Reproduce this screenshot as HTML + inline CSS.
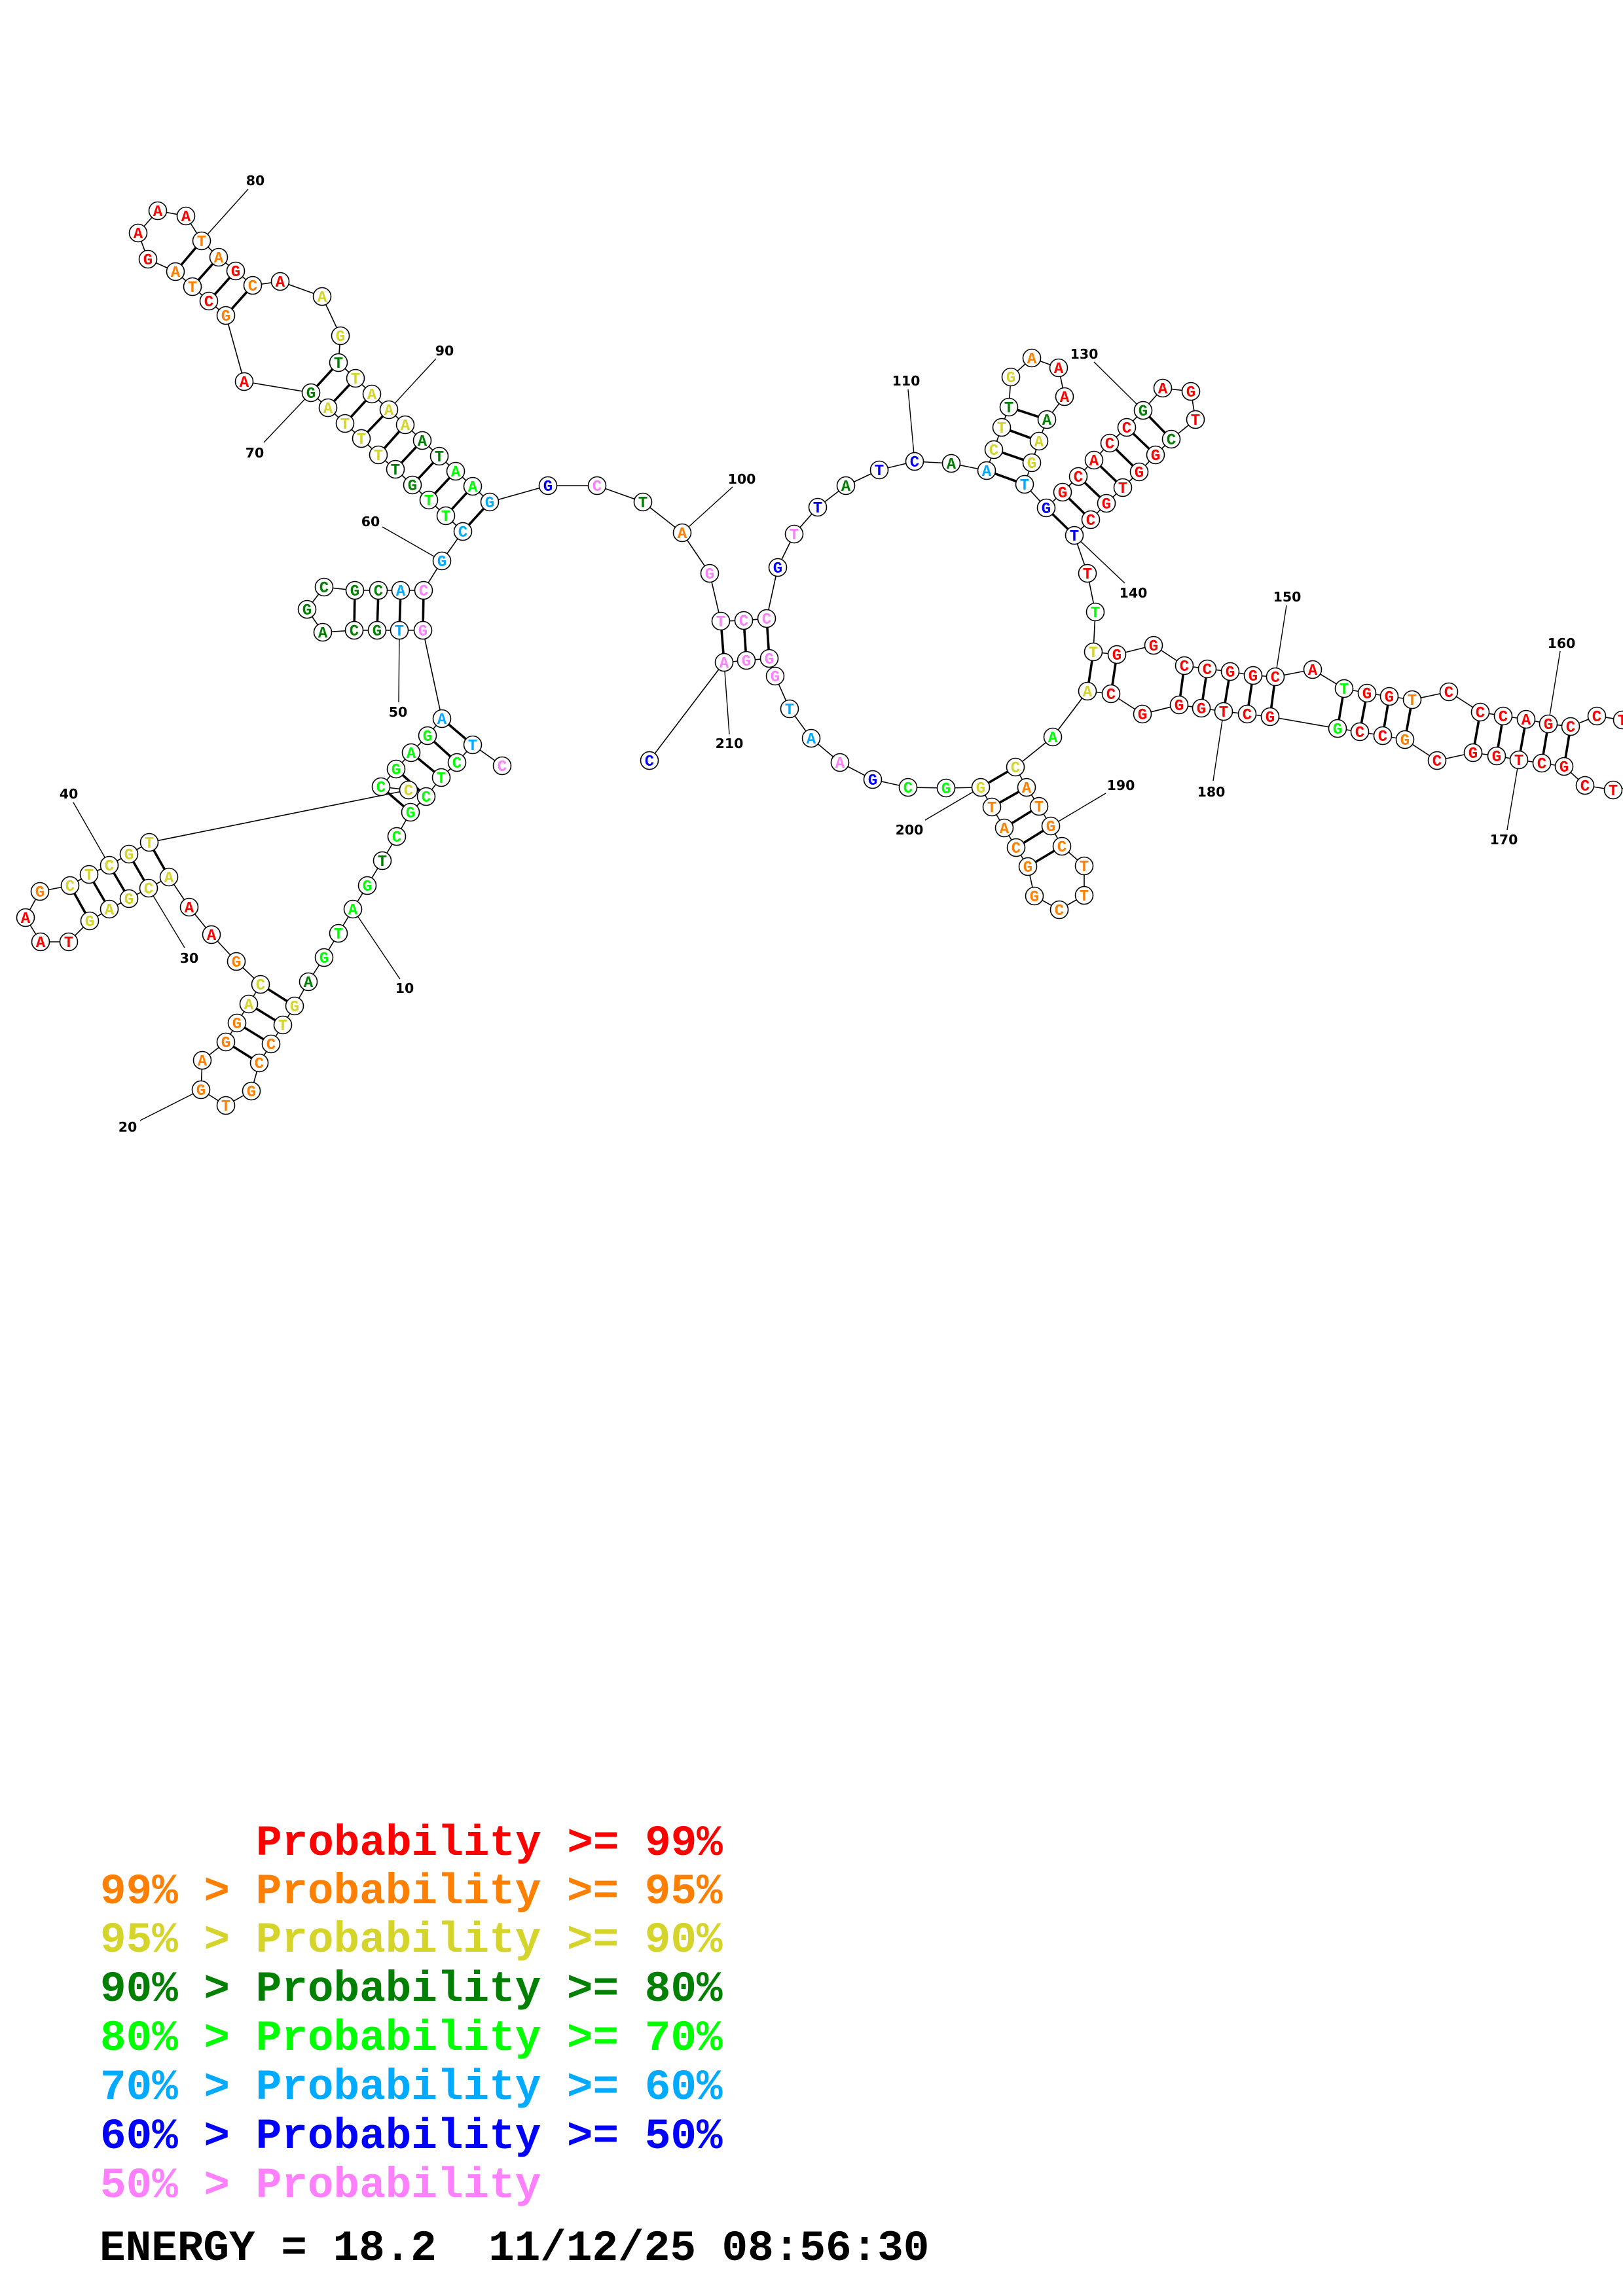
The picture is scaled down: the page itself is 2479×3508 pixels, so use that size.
<!DOCTYPE html>
<html>
<head>
<meta charset="utf-8">
<style>
html,body{margin:0;padding:0;background:#fff;}
body{width:2479px;height:3508px;overflow:hidden;position:relative;}
svg{position:absolute;left:0;top:0;}
.bb{fill:none;stroke:#000;stroke-width:1.6;}
.ll{stroke:#000;stroke-width:1.4;}
.pr{stroke:#000;stroke-width:3.6;}
.n circle{fill:#fff;stroke:#000;stroke-width:1.6;}
.n text{font-family:"Liberation Mono",monospace;font-weight:bold;font-size:24px;text-anchor:middle;}
.lb{font-family:"DejaVu Sans","Liberation Sans",sans-serif;font-weight:bold;font-size:20.5px;text-anchor:middle;fill:#000;}
.lg{font-family:"Liberation Mono",monospace;font-weight:bold;font-size:66px;}
.R{fill:#ff0000}.O{fill:#ff8000}.Y{fill:#d4d42a}.D{fill:#008000}.G{fill:#00ff00}.C{fill:#00aaff}.B{fill:#0000ff}.P{fill:#ff80ff}.K{fill:#000}
</style>
</head>
<body>
<svg width="2479" height="3508" viewBox="0 0 2479 3508" xmlns="http://www.w3.org/2000/svg">
<polyline class="bb" points="767,1170 722,1138 698,1165 674,1188 651,1217 627,1241 606,1278 584,1315 561,1353 539,1389 517,1426 495,1463 471,1500 450,1537 432,1566 414,1595 396,1624 384,1667 345,1689 307,1665 309,1620 345,1592 362,1563 380,1534 398,1504 361,1469 323,1428 289,1386 258,1340 227,1357 197,1373 167,1389 137,1407 105,1439 62,1439 39,1402 61,1362 107,1353 136,1336 167,1322 197,1305 228,1287 624,1207 582,1202 605,1175 628,1150 653,1124 675,1098 646,963 610,963 576,963 541,963 493,966 469,931 495,897 542,902 578,902 612,902 647,902 675,857 707,812 681,788 655,764 630,741 604,717 578,695 552,670 527,647 501,623 475,600 373,583 345,482 319,460 294,438 268,415 226,396 211,356 241,322 284,330 308,368 334,393 360,414 386,436 428,430 492,453 520,513 517,554 543,578 568,602 594,626 619,649 645,673 671,697 696,720 722,743 748,767 837,742 912,742 982,767 1042,814 1084,876 1101,949 1136,948 1171,945 1188,867 1213,816 1249,775 1292,742 1343,718 1397,705 1453,708 1507,719 1518,687 1530,653 1541,622 1544,576 1576,547 1617,562 1626,606 1599,641 1587,674 1576,707 1565,740 1598,776 1623,752 1647,728 1671,703 1695,677 1721,653 1746,627 1776,593 1819,598 1826,641 1789,671 1765,695 1740,721 1715,745 1690,769 1666,794 1641,818 1661,876 1673,935 1670,996 1706,1000 1762,986 1809,1017 1844,1022 1879,1026 1914,1032 1948,1034 2005,1023 2053,1052 2088,1059 2122,1064 2157,1069 2213,1057 2261,1088 2296,1094 2331,1099 2365,1106 2399,1110 2439,1094 2478,1100 2512,1130 2505,1200 2464,1207 2421,1200 2389,1171 2355,1166 2320,1161 2286,1155 2250,1150 2195,1162 2146,1130 2112,1124 2077,1118 2043,1113 1940,1095 1905,1091 1869,1087 1835,1082 1801,1077 1745,1091 1697,1060 1661,1056 1608,1126 1551,1172 1568,1203 1587,1232 1605,1262 1622,1293 1656,1323 1656,1368 1618,1390 1580,1369 1570,1324 1552,1295 1534,1265 1515,1233 1498,1203 1445,1204 1387,1203 1333,1191 1283,1165 1239,1128 1206,1083 1184,1033 1175,1006 1140,1009 1106,1012 992,1162"/>

<g class="ll">
<line x1="308" y1="368" x2="379" y2="289"/>
<line x1="594" y1="626" x2="666" y2="548"/>
<line x1="475" y1="600" x2="403" y2="676"/>
<line x1="675" y1="857" x2="584" y2="805"/>
<line x1="610" y1="963" x2="609" y2="1073"/>
<line x1="1042" y1="814" x2="1119" y2="744"/>
<line x1="1397" y1="705" x2="1387" y2="595"/>
<line x1="1746" y1="627" x2="1671" y2="553"/>
<line x1="1641" y1="818" x2="1718" y2="891"/>
<line x1="1948" y1="1034" x2="1965" y2="925"/>
<line x1="2365" y1="1106" x2="2383" y2="995"/>
<line x1="2320" y1="1161" x2="2302" y2="1268"/>
<line x1="1869" y1="1087" x2="1853" y2="1193"/>
<line x1="1605" y1="1262" x2="1689" y2="1212"/>
<line x1="1498" y1="1203" x2="1413" y2="1253"/>
<line x1="1106" y1="1012" x2="1114" y2="1122"/>
<line x1="167" y1="1322" x2="112" y2="1226"/>
<line x1="227" y1="1357" x2="282" y2="1448"/>
<line x1="307" y1="1665" x2="214" y2="1712"/>
<line x1="539" y1="1389" x2="611" y2="1496"/>
</g>

<g class="pr">
<line x1="722" y1="1138" x2="675" y2="1098"/>
<line x1="698" y1="1165" x2="653" y2="1124"/>
<line x1="674" y1="1188" x2="628" y2="1150"/>
<line x1="651" y1="1217" x2="605" y2="1175"/>
<line x1="627" y1="1241" x2="582" y2="1202"/>
<line x1="450" y1="1537" x2="398" y2="1504"/>
<line x1="432" y1="1566" x2="380" y2="1534"/>
<line x1="414" y1="1595" x2="362" y2="1563"/>
<line x1="396" y1="1624" x2="345" y2="1592"/>
<line x1="258" y1="1340" x2="228" y2="1287"/>
<line x1="227" y1="1357" x2="197" y2="1305"/>
<line x1="197" y1="1373" x2="167" y2="1322"/>
<line x1="167" y1="1389" x2="136" y2="1336"/>
<line x1="137" y1="1407" x2="107" y2="1353"/>
<line x1="646" y1="963" x2="647" y2="902"/>
<line x1="610" y1="963" x2="612" y2="902"/>
<line x1="576" y1="963" x2="578" y2="902"/>
<line x1="541" y1="963" x2="542" y2="902"/>
<line x1="707" y1="812" x2="748" y2="767"/>
<line x1="681" y1="788" x2="722" y2="743"/>
<line x1="655" y1="764" x2="696" y2="720"/>
<line x1="630" y1="741" x2="671" y2="697"/>
<line x1="604" y1="717" x2="645" y2="673"/>
<line x1="578" y1="695" x2="619" y2="649"/>
<line x1="552" y1="670" x2="594" y2="626"/>
<line x1="527" y1="647" x2="568" y2="602"/>
<line x1="501" y1="623" x2="543" y2="578"/>
<line x1="475" y1="600" x2="517" y2="554"/>
<line x1="345" y1="482" x2="386" y2="436"/>
<line x1="319" y1="460" x2="360" y2="414"/>
<line x1="294" y1="438" x2="334" y2="393"/>
<line x1="268" y1="415" x2="308" y2="368"/>
<line x1="1101" y1="949" x2="1106" y2="1012"/>
<line x1="1136" y1="948" x2="1140" y2="1009"/>
<line x1="1171" y1="945" x2="1175" y2="1006"/>
<line x1="1507" y1="719" x2="1565" y2="740"/>
<line x1="1518" y1="687" x2="1576" y2="707"/>
<line x1="1530" y1="653" x2="1587" y2="674"/>
<line x1="1541" y1="622" x2="1599" y2="641"/>
<line x1="1598" y1="776" x2="1641" y2="818"/>
<line x1="1623" y1="752" x2="1666" y2="794"/>
<line x1="1647" y1="728" x2="1690" y2="769"/>
<line x1="1671" y1="703" x2="1715" y2="745"/>
<line x1="1695" y1="677" x2="1740" y2="721"/>
<line x1="1721" y1="653" x2="1765" y2="695"/>
<line x1="1746" y1="627" x2="1789" y2="671"/>
<line x1="1670" y1="996" x2="1661" y2="1056"/>
<line x1="1706" y1="1000" x2="1697" y2="1060"/>
<line x1="1809" y1="1017" x2="1801" y2="1077"/>
<line x1="1844" y1="1022" x2="1835" y2="1082"/>
<line x1="1879" y1="1026" x2="1869" y2="1087"/>
<line x1="1914" y1="1032" x2="1905" y2="1091"/>
<line x1="1948" y1="1034" x2="1940" y2="1095"/>
<line x1="2053" y1="1052" x2="2043" y2="1113"/>
<line x1="2088" y1="1059" x2="2077" y2="1118"/>
<line x1="2122" y1="1064" x2="2112" y2="1124"/>
<line x1="2157" y1="1069" x2="2146" y2="1130"/>
<line x1="2261" y1="1088" x2="2250" y2="1150"/>
<line x1="2296" y1="1094" x2="2286" y2="1155"/>
<line x1="2331" y1="1099" x2="2320" y2="1161"/>
<line x1="2365" y1="1106" x2="2355" y2="1166"/>
<line x1="2399" y1="1110" x2="2389" y2="1171"/>
<line x1="1551" y1="1172" x2="1498" y2="1203"/>
<line x1="1568" y1="1203" x2="1515" y2="1233"/>
<line x1="1587" y1="1232" x2="1534" y2="1265"/>
<line x1="1605" y1="1262" x2="1552" y2="1295"/>
<line x1="1622" y1="1293" x2="1570" y2="1324"/>
</g>

<g class="n">
<g transform="translate(767,1170)"><circle r="13.5"/><text y="8" class="P">C</text></g>
<g transform="translate(722,1138)"><circle r="13.5"/><text y="8" class="C">T</text></g>
<g transform="translate(698,1165)"><circle r="13.5"/><text y="8" class="G">C</text></g>
<g transform="translate(674,1188)"><circle r="13.5"/><text y="8" class="G">T</text></g>
<g transform="translate(651,1217)"><circle r="13.5"/><text y="8" class="G">C</text></g>
<g transform="translate(627,1241)"><circle r="13.5"/><text y="8" class="G">G</text></g>
<g transform="translate(606,1278)"><circle r="13.5"/><text y="8" class="G">C</text></g>
<g transform="translate(584,1315)"><circle r="13.5"/><text y="8" class="D">T</text></g>
<g transform="translate(561,1353)"><circle r="13.5"/><text y="8" class="G">G</text></g>
<g transform="translate(539,1389)"><circle r="13.5"/><text y="8" class="G">A</text></g>
<g transform="translate(517,1426)"><circle r="13.5"/><text y="8" class="G">T</text></g>
<g transform="translate(495,1463)"><circle r="13.5"/><text y="8" class="G">G</text></g>
<g transform="translate(471,1500)"><circle r="13.5"/><text y="8" class="D">A</text></g>
<g transform="translate(450,1537)"><circle r="13.5"/><text y="8" class="Y">G</text></g>
<g transform="translate(432,1566)"><circle r="13.5"/><text y="8" class="Y">T</text></g>
<g transform="translate(414,1595)"><circle r="13.5"/><text y="8" class="O">C</text></g>
<g transform="translate(396,1624)"><circle r="13.5"/><text y="8" class="O">C</text></g>
<g transform="translate(384,1667)"><circle r="13.5"/><text y="8" class="O">G</text></g>
<g transform="translate(345,1689)"><circle r="13.5"/><text y="8" class="O">T</text></g>
<g transform="translate(307,1665)"><circle r="13.5"/><text y="8" class="O">G</text></g>
<g transform="translate(309,1620)"><circle r="13.5"/><text y="8" class="O">A</text></g>
<g transform="translate(345,1592)"><circle r="13.5"/><text y="8" class="O">G</text></g>
<g transform="translate(362,1563)"><circle r="13.5"/><text y="8" class="O">G</text></g>
<g transform="translate(380,1534)"><circle r="13.5"/><text y="8" class="Y">A</text></g>
<g transform="translate(398,1504)"><circle r="13.5"/><text y="8" class="Y">C</text></g>
<g transform="translate(361,1469)"><circle r="13.5"/><text y="8" class="O">G</text></g>
<g transform="translate(323,1428)"><circle r="13.5"/><text y="8" class="R">A</text></g>
<g transform="translate(289,1386)"><circle r="13.5"/><text y="8" class="R">A</text></g>
<g transform="translate(258,1340)"><circle r="13.5"/><text y="8" class="Y">A</text></g>
<g transform="translate(227,1357)"><circle r="13.5"/><text y="8" class="Y">C</text></g>
<g transform="translate(197,1373)"><circle r="13.5"/><text y="8" class="Y">G</text></g>
<g transform="translate(167,1389)"><circle r="13.5"/><text y="8" class="Y">A</text></g>
<g transform="translate(137,1407)"><circle r="13.5"/><text y="8" class="Y">G</text></g>
<g transform="translate(105,1439)"><circle r="13.5"/><text y="8" class="R">T</text></g>
<g transform="translate(62,1439)"><circle r="13.5"/><text y="8" class="R">A</text></g>
<g transform="translate(39,1402)"><circle r="13.5"/><text y="8" class="R">A</text></g>
<g transform="translate(61,1362)"><circle r="13.5"/><text y="8" class="O">G</text></g>
<g transform="translate(107,1353)"><circle r="13.5"/><text y="8" class="Y">C</text></g>
<g transform="translate(136,1336)"><circle r="13.5"/><text y="8" class="Y">T</text></g>
<g transform="translate(167,1322)"><circle r="13.5"/><text y="8" class="Y">C</text></g>
<g transform="translate(197,1305)"><circle r="13.5"/><text y="8" class="Y">G</text></g>
<g transform="translate(228,1287)"><circle r="13.5"/><text y="8" class="Y">T</text></g>
<g transform="translate(582,1202)"><circle r="13.5"/><text y="8" class="G">C</text></g>
<g transform="translate(624,1207)"><circle r="13.5"/><text y="8" class="Y">C</text></g>
<g transform="translate(605,1175)"><circle r="13.5"/><text y="8" class="G">G</text></g>
<g transform="translate(628,1150)"><circle r="13.5"/><text y="8" class="G">A</text></g>
<g transform="translate(653,1124)"><circle r="13.5"/><text y="8" class="G">G</text></g>
<g transform="translate(675,1098)"><circle r="13.5"/><text y="8" class="C">A</text></g>
<g transform="translate(646,963)"><circle r="13.5"/><text y="8" class="P">G</text></g>
<g transform="translate(610,963)"><circle r="13.5"/><text y="8" class="C">T</text></g>
<g transform="translate(576,963)"><circle r="13.5"/><text y="8" class="D">G</text></g>
<g transform="translate(541,963)"><circle r="13.5"/><text y="8" class="D">C</text></g>
<g transform="translate(493,966)"><circle r="13.5"/><text y="8" class="D">A</text></g>
<g transform="translate(469,931)"><circle r="13.5"/><text y="8" class="D">G</text></g>
<g transform="translate(495,897)"><circle r="13.5"/><text y="8" class="D">C</text></g>
<g transform="translate(542,902)"><circle r="13.5"/><text y="8" class="D">G</text></g>
<g transform="translate(578,902)"><circle r="13.5"/><text y="8" class="D">C</text></g>
<g transform="translate(612,902)"><circle r="13.5"/><text y="8" class="C">A</text></g>
<g transform="translate(647,902)"><circle r="13.5"/><text y="8" class="P">C</text></g>
<g transform="translate(675,857)"><circle r="13.5"/><text y="8" class="C">G</text></g>
<g transform="translate(707,812)"><circle r="13.5"/><text y="8" class="C">C</text></g>
<g transform="translate(681,788)"><circle r="13.5"/><text y="8" class="G">T</text></g>
<g transform="translate(655,764)"><circle r="13.5"/><text y="8" class="G">T</text></g>
<g transform="translate(630,741)"><circle r="13.5"/><text y="8" class="D">G</text></g>
<g transform="translate(604,717)"><circle r="13.5"/><text y="8" class="D">T</text></g>
<g transform="translate(578,695)"><circle r="13.5"/><text y="8" class="Y">T</text></g>
<g transform="translate(552,670)"><circle r="13.5"/><text y="8" class="Y">T</text></g>
<g transform="translate(527,647)"><circle r="13.5"/><text y="8" class="Y">T</text></g>
<g transform="translate(501,623)"><circle r="13.5"/><text y="8" class="Y">A</text></g>
<g transform="translate(475,600)"><circle r="13.5"/><text y="8" class="D">G</text></g>
<g transform="translate(373,583)"><circle r="13.5"/><text y="8" class="R">A</text></g>
<g transform="translate(345,482)"><circle r="13.5"/><text y="8" class="O">G</text></g>
<g transform="translate(319,460)"><circle r="13.5"/><text y="8" class="R">C</text></g>
<g transform="translate(294,438)"><circle r="13.5"/><text y="8" class="O">T</text></g>
<g transform="translate(268,415)"><circle r="13.5"/><text y="8" class="O">A</text></g>
<g transform="translate(226,396)"><circle r="13.5"/><text y="8" class="R">G</text></g>
<g transform="translate(211,356)"><circle r="13.5"/><text y="8" class="R">A</text></g>
<g transform="translate(241,322)"><circle r="13.5"/><text y="8" class="R">A</text></g>
<g transform="translate(284,330)"><circle r="13.5"/><text y="8" class="R">A</text></g>
<g transform="translate(308,368)"><circle r="13.5"/><text y="8" class="O">T</text></g>
<g transform="translate(334,393)"><circle r="13.5"/><text y="8" class="O">A</text></g>
<g transform="translate(360,414)"><circle r="13.5"/><text y="8" class="R">G</text></g>
<g transform="translate(386,436)"><circle r="13.5"/><text y="8" class="O">C</text></g>
<g transform="translate(428,430)"><circle r="13.5"/><text y="8" class="R">A</text></g>
<g transform="translate(492,453)"><circle r="13.5"/><text y="8" class="Y">A</text></g>
<g transform="translate(520,513)"><circle r="13.5"/><text y="8" class="Y">G</text></g>
<g transform="translate(517,554)"><circle r="13.5"/><text y="8" class="D">T</text></g>
<g transform="translate(543,578)"><circle r="13.5"/><text y="8" class="Y">T</text></g>
<g transform="translate(568,602)"><circle r="13.5"/><text y="8" class="Y">A</text></g>
<g transform="translate(594,626)"><circle r="13.5"/><text y="8" class="Y">A</text></g>
<g transform="translate(619,649)"><circle r="13.5"/><text y="8" class="Y">A</text></g>
<g transform="translate(645,673)"><circle r="13.5"/><text y="8" class="D">A</text></g>
<g transform="translate(671,697)"><circle r="13.5"/><text y="8" class="D">T</text></g>
<g transform="translate(696,720)"><circle r="13.5"/><text y="8" class="G">A</text></g>
<g transform="translate(722,743)"><circle r="13.5"/><text y="8" class="G">A</text></g>
<g transform="translate(748,767)"><circle r="13.5"/><text y="8" class="C">G</text></g>
<g transform="translate(837,742)"><circle r="13.5"/><text y="8" class="B">G</text></g>
<g transform="translate(912,742)"><circle r="13.5"/><text y="8" class="P">C</text></g>
<g transform="translate(982,767)"><circle r="13.5"/><text y="8" class="D">T</text></g>
<g transform="translate(1042,814)"><circle r="13.5"/><text y="8" class="O">A</text></g>
<g transform="translate(1084,876)"><circle r="13.5"/><text y="8" class="P">G</text></g>
<g transform="translate(1101,949)"><circle r="13.5"/><text y="8" class="P">T</text></g>
<g transform="translate(1136,948)"><circle r="13.5"/><text y="8" class="P">C</text></g>
<g transform="translate(1171,945)"><circle r="13.5"/><text y="8" class="P">C</text></g>
<g transform="translate(1188,867)"><circle r="13.5"/><text y="8" class="B">G</text></g>
<g transform="translate(1213,816)"><circle r="13.5"/><text y="8" class="P">T</text></g>
<g transform="translate(1249,775)"><circle r="13.5"/><text y="8" class="B">T</text></g>
<g transform="translate(1292,742)"><circle r="13.5"/><text y="8" class="D">A</text></g>
<g transform="translate(1343,718)"><circle r="13.5"/><text y="8" class="B">T</text></g>
<g transform="translate(1397,705)"><circle r="13.5"/><text y="8" class="B">C</text></g>
<g transform="translate(1453,708)"><circle r="13.5"/><text y="8" class="D">A</text></g>
<g transform="translate(1507,719)"><circle r="13.5"/><text y="8" class="C">A</text></g>
<g transform="translate(1518,687)"><circle r="13.5"/><text y="8" class="Y">C</text></g>
<g transform="translate(1530,653)"><circle r="13.5"/><text y="8" class="Y">T</text></g>
<g transform="translate(1541,622)"><circle r="13.5"/><text y="8" class="D">T</text></g>
<g transform="translate(1544,576)"><circle r="13.5"/><text y="8" class="Y">G</text></g>
<g transform="translate(1576,547)"><circle r="13.5"/><text y="8" class="O">A</text></g>
<g transform="translate(1617,562)"><circle r="13.5"/><text y="8" class="R">A</text></g>
<g transform="translate(1626,606)"><circle r="13.5"/><text y="8" class="R">A</text></g>
<g transform="translate(1599,641)"><circle r="13.5"/><text y="8" class="D">A</text></g>
<g transform="translate(1587,674)"><circle r="13.5"/><text y="8" class="Y">A</text></g>
<g transform="translate(1576,707)"><circle r="13.5"/><text y="8" class="Y">G</text></g>
<g transform="translate(1565,740)"><circle r="13.5"/><text y="8" class="C">T</text></g>
<g transform="translate(1598,776)"><circle r="13.5"/><text y="8" class="B">G</text></g>
<g transform="translate(1623,752)"><circle r="13.5"/><text y="8" class="R">G</text></g>
<g transform="translate(1647,728)"><circle r="13.5"/><text y="8" class="R">C</text></g>
<g transform="translate(1671,703)"><circle r="13.5"/><text y="8" class="R">A</text></g>
<g transform="translate(1695,677)"><circle r="13.5"/><text y="8" class="R">C</text></g>
<g transform="translate(1721,653)"><circle r="13.5"/><text y="8" class="R">C</text></g>
<g transform="translate(1746,627)"><circle r="13.5"/><text y="8" class="D">G</text></g>
<g transform="translate(1776,593)"><circle r="13.5"/><text y="8" class="R">A</text></g>
<g transform="translate(1819,598)"><circle r="13.5"/><text y="8" class="R">G</text></g>
<g transform="translate(1826,641)"><circle r="13.5"/><text y="8" class="R">T</text></g>
<g transform="translate(1789,671)"><circle r="13.5"/><text y="8" class="D">C</text></g>
<g transform="translate(1765,695)"><circle r="13.5"/><text y="8" class="R">G</text></g>
<g transform="translate(1740,721)"><circle r="13.5"/><text y="8" class="R">G</text></g>
<g transform="translate(1715,745)"><circle r="13.5"/><text y="8" class="R">T</text></g>
<g transform="translate(1690,769)"><circle r="13.5"/><text y="8" class="R">G</text></g>
<g transform="translate(1666,794)"><circle r="13.5"/><text y="8" class="R">C</text></g>
<g transform="translate(1641,818)"><circle r="13.5"/><text y="8" class="B">T</text></g>
<g transform="translate(1661,876)"><circle r="13.5"/><text y="8" class="R">T</text></g>
<g transform="translate(1673,935)"><circle r="13.5"/><text y="8" class="G">T</text></g>
<g transform="translate(1670,996)"><circle r="13.5"/><text y="8" class="Y">T</text></g>
<g transform="translate(1706,1000)"><circle r="13.5"/><text y="8" class="R">G</text></g>
<g transform="translate(1762,986)"><circle r="13.5"/><text y="8" class="R">G</text></g>
<g transform="translate(1809,1017)"><circle r="13.5"/><text y="8" class="R">C</text></g>
<g transform="translate(1844,1022)"><circle r="13.5"/><text y="8" class="R">C</text></g>
<g transform="translate(1879,1026)"><circle r="13.5"/><text y="8" class="R">G</text></g>
<g transform="translate(1914,1032)"><circle r="13.5"/><text y="8" class="R">G</text></g>
<g transform="translate(1948,1034)"><circle r="13.5"/><text y="8" class="R">C</text></g>
<g transform="translate(2005,1023)"><circle r="13.5"/><text y="8" class="R">A</text></g>
<g transform="translate(2053,1052)"><circle r="13.5"/><text y="8" class="G">T</text></g>
<g transform="translate(2088,1059)"><circle r="13.5"/><text y="8" class="R">G</text></g>
<g transform="translate(2122,1064)"><circle r="13.5"/><text y="8" class="R">G</text></g>
<g transform="translate(2157,1069)"><circle r="13.5"/><text y="8" class="O">T</text></g>
<g transform="translate(2213,1057)"><circle r="13.5"/><text y="8" class="R">C</text></g>
<g transform="translate(2261,1088)"><circle r="13.5"/><text y="8" class="R">C</text></g>
<g transform="translate(2296,1094)"><circle r="13.5"/><text y="8" class="R">C</text></g>
<g transform="translate(2331,1099)"><circle r="13.5"/><text y="8" class="R">A</text></g>
<g transform="translate(2365,1106)"><circle r="13.5"/><text y="8" class="R">G</text></g>
<g transform="translate(2399,1110)"><circle r="13.5"/><text y="8" class="R">C</text></g>
<g transform="translate(2439,1094)"><circle r="13.5"/><text y="8" class="R">C</text></g>
<g transform="translate(2478,1100)"><circle r="13.5"/><text y="8" class="R">T</text></g>
<g transform="translate(2512,1130)"><circle r="13.5"/><text y="8" class="R">C</text></g>
<g transform="translate(2505,1200)"><circle r="13.5"/><text y="8" class="R">G</text></g>
<g transform="translate(2464,1207)"><circle r="13.5"/><text y="8" class="R">T</text></g>
<g transform="translate(2421,1200)"><circle r="13.5"/><text y="8" class="R">C</text></g>
<g transform="translate(2389,1171)"><circle r="13.5"/><text y="8" class="R">G</text></g>
<g transform="translate(2355,1166)"><circle r="13.5"/><text y="8" class="R">C</text></g>
<g transform="translate(2320,1161)"><circle r="13.5"/><text y="8" class="R">T</text></g>
<g transform="translate(2286,1155)"><circle r="13.5"/><text y="8" class="R">G</text></g>
<g transform="translate(2250,1150)"><circle r="13.5"/><text y="8" class="R">G</text></g>
<g transform="translate(2195,1162)"><circle r="13.5"/><text y="8" class="R">C</text></g>
<g transform="translate(2146,1130)"><circle r="13.5"/><text y="8" class="O">G</text></g>
<g transform="translate(2112,1124)"><circle r="13.5"/><text y="8" class="R">C</text></g>
<g transform="translate(2077,1118)"><circle r="13.5"/><text y="8" class="R">C</text></g>
<g transform="translate(2043,1113)"><circle r="13.5"/><text y="8" class="G">G</text></g>
<g transform="translate(1940,1095)"><circle r="13.5"/><text y="8" class="R">G</text></g>
<g transform="translate(1905,1091)"><circle r="13.5"/><text y="8" class="R">C</text></g>
<g transform="translate(1869,1087)"><circle r="13.5"/><text y="8" class="R">T</text></g>
<g transform="translate(1835,1082)"><circle r="13.5"/><text y="8" class="R">G</text></g>
<g transform="translate(1801,1077)"><circle r="13.5"/><text y="8" class="R">G</text></g>
<g transform="translate(1745,1091)"><circle r="13.5"/><text y="8" class="R">G</text></g>
<g transform="translate(1697,1060)"><circle r="13.5"/><text y="8" class="R">C</text></g>
<g transform="translate(1661,1056)"><circle r="13.5"/><text y="8" class="Y">A</text></g>
<g transform="translate(1608,1126)"><circle r="13.5"/><text y="8" class="G">A</text></g>
<g transform="translate(1551,1172)"><circle r="13.5"/><text y="8" class="Y">C</text></g>
<g transform="translate(1568,1203)"><circle r="13.5"/><text y="8" class="O">A</text></g>
<g transform="translate(1587,1232)"><circle r="13.5"/><text y="8" class="O">T</text></g>
<g transform="translate(1605,1262)"><circle r="13.5"/><text y="8" class="O">G</text></g>
<g transform="translate(1622,1293)"><circle r="13.5"/><text y="8" class="O">C</text></g>
<g transform="translate(1656,1323)"><circle r="13.5"/><text y="8" class="O">T</text></g>
<g transform="translate(1656,1368)"><circle r="13.5"/><text y="8" class="O">T</text></g>
<g transform="translate(1618,1390)"><circle r="13.5"/><text y="8" class="O">C</text></g>
<g transform="translate(1580,1369)"><circle r="13.5"/><text y="8" class="O">G</text></g>
<g transform="translate(1570,1324)"><circle r="13.5"/><text y="8" class="O">G</text></g>
<g transform="translate(1552,1295)"><circle r="13.5"/><text y="8" class="O">C</text></g>
<g transform="translate(1534,1265)"><circle r="13.5"/><text y="8" class="O">A</text></g>
<g transform="translate(1515,1233)"><circle r="13.5"/><text y="8" class="O">T</text></g>
<g transform="translate(1498,1203)"><circle r="13.5"/><text y="8" class="Y">G</text></g>
<g transform="translate(1445,1204)"><circle r="13.5"/><text y="8" class="G">G</text></g>
<g transform="translate(1387,1203)"><circle r="13.5"/><text y="8" class="G">C</text></g>
<g transform="translate(1333,1191)"><circle r="13.5"/><text y="8" class="B">G</text></g>
<g transform="translate(1283,1165)"><circle r="13.5"/><text y="8" class="P">A</text></g>
<g transform="translate(1239,1128)"><circle r="13.5"/><text y="8" class="C">A</text></g>
<g transform="translate(1206,1083)"><circle r="13.5"/><text y="8" class="C">T</text></g>
<g transform="translate(1184,1033)"><circle r="13.5"/><text y="8" class="P">G</text></g>
<g transform="translate(1175,1006)"><circle r="13.5"/><text y="8" class="P">G</text></g>
<g transform="translate(1140,1009)"><circle r="13.5"/><text y="8" class="P">G</text></g>
<g transform="translate(1106,1012)"><circle r="13.5"/><text y="8" class="P">A</text></g>
<g transform="translate(992,1162)"><circle r="13.5"/><text y="8" class="B">C</text></g>
</g>

<g>
<text class="lb" x="390" y="283">80</text>
<text class="lb" x="679" y="543">90</text>
<text class="lb" x="389" y="699">70</text>
<text class="lb" x="566" y="804">60</text>
<text class="lb" x="608" y="1095">50</text>
<text class="lb" x="1133" y="739">100</text>
<text class="lb" x="1384" y="589">110</text>
<text class="lb" x="1656" y="548">130</text>
<text class="lb" x="1731" y="913">140</text>
<text class="lb" x="1966" y="919">150</text>
<text class="lb" x="2385" y="990">160</text>
<text class="lb" x="2297" y="1290">170</text>
<text class="lb" x="1850" y="1217">180</text>
<text class="lb" x="1712" y="1207">190</text>
<text class="lb" x="1389" y="1275">200</text>
<text class="lb" x="1114" y="1143">210</text>
<text class="lb" x="105" y="1220">40</text>
<text class="lb" x="289" y="1471">30</text>
<text class="lb" x="195" y="1729">20</text>
<text class="lb" x="618" y="1517">10</text>
</g>

<g class="lg">
<text x="391" y="2834" class="R">Probability &gt;= 99%</text>
<text x="153" y="2908" class="O">99% &gt; Probability &gt;= 95%</text>
<text x="153" y="2982" class="Y">95% &gt; Probability &gt;= 90%</text>
<text x="153" y="3057" class="D">90% &gt; Probability &gt;= 80%</text>
<text x="153" y="3132" class="G">80% &gt; Probability &gt;= 70%</text>
<text x="153" y="3207" class="C">70% &gt; Probability &gt;= 60%</text>
<text x="153" y="3282" class="B">60% &gt; Probability &gt;= 50%</text>
<text x="153" y="3357" class="P">50% &gt; Probability</text>
<text x="152" y="3453" class="K">ENERGY = 18.2 &#160;11/12/25 08:56:30</text>
</g>
</svg>
</body>
</html>
